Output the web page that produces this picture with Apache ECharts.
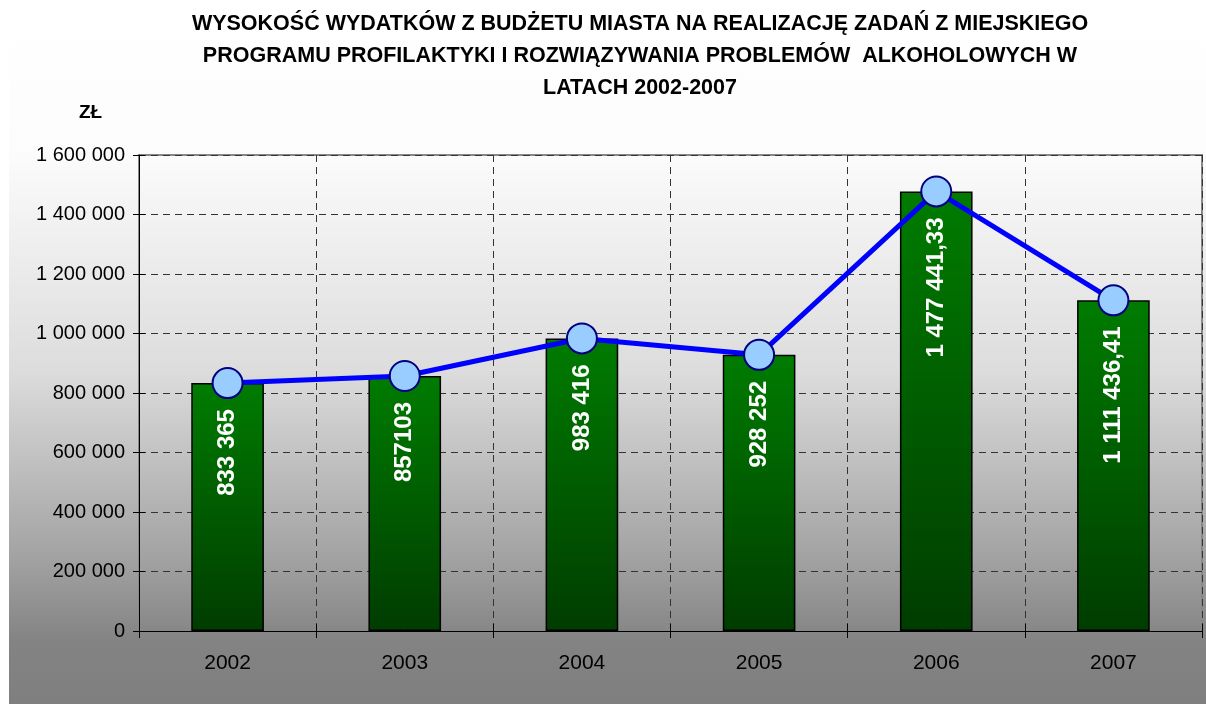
<!DOCTYPE html>
<html>
<head>
<meta charset="utf-8">
<script src="https://cdn.jsdelivr.net/npm/echarts@6/dist/echarts.min.js"></script>
<style>
  html, body { margin: 0; padding: 0; background: #fff; }
  #chart { width: 1206px; height: 704px; }
</style>
</head>
<body>
<div id="chart"></div>
<script>
  // dane
  var years = ['2002', '2003', '2004', '2005', '2006', '2007'];
  var wydatki = [833365, 857103, 983416, 928252, 1477441.33, 1111436.41];
  var labelTexts = ['833 365', '857103', '983 416', '928 252', '1 477 441,33', '1 111 436,41'];
  var yTicks = [0, 200000, 400000, 600000, 800000, 1000000, 1200000, 1400000, 1600000];

  var chart = echarts.init(document.getElementById('chart'));

  function spaced(v) {
    return String(v).replace(/\B(?=(\d{3})+(?!\d))/g, ' ');
  }

  var font = '"Liberation Sans", Arial, sans-serif';

  var option = {
    animation: false,
    backgroundColor: '#ffffff',
    graphic: [
      {
        type: 'rect',
        z: -10,
        shape: {x: 9, y: 12, width: 1197, height: 692},
        style: {
          fill: new echarts.graphic.LinearGradient(0, 0, 0, 1, [
            {offset: 0, color: '#ffffff'},
            {offset: 0.2, color: '#fcfcfc'},
            {offset: 0.52, color: '#dcdcdc'},
            {offset: 0.79, color: '#a2a2a2'},
            {offset: 0.91, color: '#838383'},
            {offset: 1, color: '#7f7f7f'}
          ])
        }
      },
      {
        type: 'text',
        left: 79,
        top: 103,
        style: {text: 'ZŁ', fontFamily: font, fontWeight: 'bold', fontSize: 19, fill: '#000'}
      }
    ],
    title: {
      text: 'WYSOKOŚĆ WYDATKÓW Z BUDŻETU MIASTA NA REALIZACJĘ ZADAŃ Z MIEJSKIEGO\nPROGRAMU PROFILAKTYKI I ROZWIĄZYWANIA PROBLEMÓW  ALKOHOLOWYCH W\nLATACH 2002-2007',
      left: 635,
      top: 3,
      textAlign: 'center',
      textStyle: {
        fontFamily: font,
        fontWeight: 'bold',
        fontSize: 21.5,
        lineHeight: 32,
        color: '#000'
      }
    },
    grid: {
      left: 139,
      right: 4,
      top: 155,
      bottom: 73,
      show: true,
      borderColor: '#888888',
      borderWidth: 2,
      backgroundColor: 'transparent'
    },
    xAxis: [
      {
        type: 'category',
        data: years,
        axisLine: {lineStyle: {color: '#000', width: 1}},
        axisTick: {show: true, length: 7, lineStyle: {color: '#000'}},
        axisLabel: {color: '#000', fontFamily: font, fontSize: 21, margin: 22},
        splitLine: {show: true, lineStyle: {color: '#333', type: [7, 5], width: 1}}
      },
      {
        // krzyżowe znaczniki osi
        type: 'category',
        data: years,
        position: 'bottom',
        axisLine: {show: false},
        axisTick: {show: true, inside: true, length: 7, lineStyle: {color: '#000'}},
        axisLabel: {show: false},
        splitLine: {show: false}
      }
    ],
    yAxis: [
      {
        type: 'value',
        min: yTicks[0],
        max: yTicks[yTicks.length - 1],
        interval: yTicks[1] - yTicks[0],
        axisLine: {show: true, lineStyle: {color: '#000', width: 1}},
        axisTick: {show: true, length: 6, lineStyle: {color: '#000'}},
        axisLabel: {
          color: '#000',
          fontFamily: font,
          fontSize: 20,
          margin: 14,
          formatter: spaced
        },
        splitLine: {show: true, lineStyle: {color: '#333', type: [7, 5], width: 1}}
      },
      {
        type: 'value',
        position: 'left',
        min: yTicks[0],
        max: yTicks[yTicks.length - 1],
        interval: yTicks[1] - yTicks[0],
        axisLine: {show: false},
        axisTick: {show: true, inside: true, length: 6, lineStyle: {color: '#000'}},
        axisLabel: {show: false},
        splitLine: {show: false}
      }
    ],
    series: [
      {
        name: 'wydatki',
        type: 'bar',
        barWidth: '41%',
        z: 2,
        data: wydatki,
        itemStyle: {
          color: new echarts.graphic.LinearGradient(0, 0, 0, 1, [
            {offset: 0, color: '#007c00'},
            {offset: 1, color: '#003c00'}
          ]),
          borderColor: '#000',
          borderWidth: 1.5
        },
        label: {
          show: true,
          position: 'insideTop',
          distance: 26,
          rotate: 90,
          align: 'right',
          verticalAlign: 'middle',
          color: '#fff',
          fontFamily: font,
          fontWeight: 'bold',
          fontSize: 24,
          formatter: function (p) {
            return labelTexts[p.dataIndex];
          }
        }
      },
      {
        name: 'linia',
        type: 'line',
        z: 5,
        data: wydatki,
        symbol: 'circle',
        symbolSize: 30,
        lineStyle: {color: '#0000ff', width: 5},
        itemStyle: {color: '#99ccff', borderColor: '#000080', borderWidth: 2}
      }
    ]
  };

  chart.setOption(option);
</script>
</body>
</html>
